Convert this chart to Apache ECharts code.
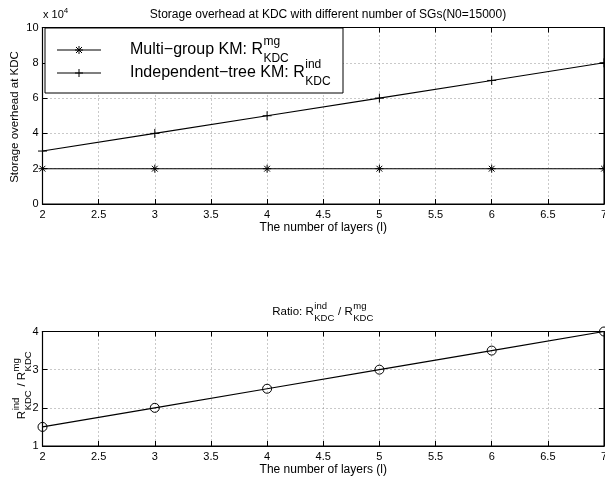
<!DOCTYPE html>
<html>
<head>
<meta charset="utf-8">
<script src="https://cdn.jsdelivr.net/npm/echarts@6/dist/echarts.min.js"></script>
<style>
  html, body { margin: 0; padding: 0; background: #fff; }
  #chart { width: 605px; height: 479px; }
</style>
</head>
<body>
<div id="chart"></div>
<script>
// Number of layers on the x axis
const layers = [2, 3, 4, 5, 6, 7];
// Storage overhead at the KDC for each key management scheme
const multiGroup = [20000, 20000, 20000, 20000, 20000, 20000];
const independentTree = [30000, 40000, 50000, 60000, 70000, 80000];
// Ratio of independent-tree to multi-group storage
const ratio = [1.5, 2, 2.5, 3, 3.5, 4];
// Tick settings
const xTicks = { min: 2, max: 7, step: 0.5 };
const topTicks = { min: 0, max: 100000, step: 20000 };
const bottomTicks = { min: 1, max: 4, step: 1 };

const FONT = '"Liberation Sans", Arial, Helvetica, sans-serif';

const pairs = (xs, ys) => xs.map((x, i) => [x, ys[i]]);

const ASTERISK = 'path://M0,-5L0,5M-5,0L5,0M-3.6,-3.6L3.6,3.6M-3.6,3.6L3.6,-3.6';
const PLUS = 'path://M0,-5L0,5M-5,0L5,0';

const grids = [
  { left: 42.5, top: 27.5, width: 561.5, height: 176.5 },
  { left: 42.5, top: 331.5, width: 561.5, height: 114.5 }
];

const gridLine = { show: true, lineStyle: { color: '#777', width: 0.8, type: [1, 3] } };
const axisLabel = { color: '#000', fontSize: 11, fontFamily: FONT };

function xAxisPair(gi) {
  const base = {
    type: 'value', gridIndex: gi, min: xTicks.min, max: xTicks.max, interval: xTicks.step,
    axisLine: { show: true, onZero: false, lineStyle: { color: '#000', width: 1.2 } },
    axisTick: { show: true, inside: true, length: 5, lineStyle: { color: '#000' } }
  };
  return [
    Object.assign({}, base, {
      position: 'bottom',
      axisLabel: Object.assign({ margin: 5, hideOverlap: false, formatter: v => String(v) }, axisLabel),
      splitLine: gridLine,
      name: 'The number of layers (l)', nameLocation: 'middle',
      nameGap: 18, nameTextStyle: { color: '#000', fontSize: 12, fontFamily: FONT, verticalAlign: 'top' }
    }),
    Object.assign({}, base, { position: 'top', axisLabel: { show: false }, splitLine: { show: false } })
  ];
}

function yAxisPair(gi, t, fmt) {
  const base = {
    type: 'value', gridIndex: gi, min: t.min, max: t.max, interval: t.step,
    axisLine: { show: true, onZero: false, lineStyle: { color: '#000', width: 1.2 } },
    axisTick: { show: true, inside: true, length: 5, lineStyle: { color: '#000' } }
  };
  return [
    Object.assign({}, base, {
      position: 'left',
      axisLabel: Object.assign({ margin: 4, formatter: fmt }, axisLabel),
      splitLine: gridLine
    }),
    Object.assign({}, base, { position: 'right', axisLabel: { show: false }, splitLine: { show: false } })
  ];
}

// Measure text so super/subscripts can be stacked after a base glyph
const measureCtx = document.createElement('canvas').getContext('2d');
function textWidth(s, size) {
  measureCtx.font = size + 'px ' + FONT;
  return measureCtx.measureText(s).width;
}

function textEl(str, x, y, size) {
  return { type: 'text', x: x, y: y, z: 110,
    style: { text: str, fontSize: size, fontFamily: FONT, fill: '#000', textAlign: 'left', textVerticalAlign: 'middle' } };
}

// parts: strings, or {sup, sub} stacked scripts; returns a centred group
function scriptedLabel(parts, size, small, cx, cy, rotation) {
  const kids = [];
  let x = 0;
  parts.forEach(p => {
    if (typeof p === 'string') {
      kids.push(textEl(p, x, 0, size));
      x += textWidth(p, size);
    } else {
      const w = Math.max(textWidth(p.sup || '', small), textWidth(p.sub || '', small));
      if (p.sup) kids.push(textEl(p.sup, x + 0.5, -size * 0.5, small));
      if (p.sub) kids.push(textEl(p.sub, x + 0.5, size * 0.55, small));
      x += w + 1;
    }
  });
  kids.forEach(k => { k.x -= x / 2; });
  return { type: 'group', x: cx, y: cy, rotation: rotation || 0, children: kids, z: 110, width: x };
}

function scriptedLeft(parts, size, small, lx, cy) {
  const g = scriptedLabel(parts, size, small, 0, cy, 0);
  g.x = lx + g.width / 2;
  return g;
}

// Legend box drawn in the upper-left corner of the first panel
const legendBox = { x: 45, y: 28, w: 298, h: 65 };
const legendRows = [
  { y: 50, symbol: 'asterisk', parts: ['Multi\u2212group KM: R', { sup: 'mg', sub: 'KDC' }] },
  { y: 73, symbol: 'plus', parts: ['Independent\u2212tree KM: R', { sup: 'ind', sub: 'KDC' }] }
];

function legendMarker(kind, cx, cy) {
  const s = 4, d = 3;
  const seg = (x1, y1, x2, y2) => ({ type: 'line', shape: { x1: cx + x1, y1: cy + y1, x2: cx + x2, y2: cy + y2 }, style: { stroke: '#000', lineWidth: 1 }, z: 105 });
  const out = [seg(0, -s, 0, s), seg(-s, 0, s, 0)];
  if (kind === 'asterisk') out.push(seg(-d, -d, d, d), seg(-d, d, d, -d));
  return out;
}

const graphics = [
  { type: 'rect', shape: { x: legendBox.x, y: legendBox.y, width: legendBox.w, height: legendBox.h },
    style: { fill: '#fff', stroke: '#000', lineWidth: 1 }, z: 99 }
];
legendRows.forEach(r => {
  graphics.push({ type: 'line', shape: { x1: 57, y1: r.y, x2: 101, y2: r.y }, style: { stroke: '#000', lineWidth: 1.2 }, z: 104 });
  legendMarker(r.symbol, 79, r.y).forEach(m => graphics.push(m));
  graphics.push(scriptedLeft(r.parts, 16, 12, 130, r.y));
});

// Axis exponent for the first panel
graphics.push({ type: 'text', x: 43, y: 15, z: 110,
  style: { text: 'x 10{s|4}', fontSize: 11, fontFamily: FONT, fill: '#000', textVerticalAlign: 'middle',
    rich: { s: { fontSize: 8, fontFamily: FONT, padding: [0, 0, 8, 0] } } } });

// Y-axis label of the first panel
graphics.push({ type: 'text', x: 15, y: 117, rotation: Math.PI / 2, z: 110,
  style: { text: 'Storage overhead at KDC', fontSize: 11.5, fontFamily: FONT, fill: '#000', textAlign: 'center', textVerticalAlign: 'middle' } });

// Second panel title and y-axis label
graphics.push(scriptedLabel(['Ratio: R', { sup: 'ind', sub: 'KDC' }, ' / R', { sup: 'mg', sub: 'KDC' }], 11.5, 9.5, 323, 312, 0));
graphics.push(scriptedLabel(['R', { sup: 'ind', sub: 'KDC' }, ' / R', { sup: 'mg', sub: 'KDC' }], 11.5, 9.5, 22, 385, Math.PI / 2));

graphics.forEach(g => { delete g.width; });

const topX = xAxisPair(0), botX = xAxisPair(1);
const topY = yAxisPair(0, topTicks, v => String(v / 10000));
const botY = yAxisPair(1, bottomTicks, v => String(v));

const lineStyle = { color: '#000', width: 1.1 };

const option = {
  animation: false,
  backgroundColor: '#fff',
  title: {
    text: 'Storage overhead at KDC with different number of SGs(N0=15000)',
    left: 323, top: 4, textAlign: 'center',
    textStyle: { color: '#000', fontSize: 12, fontWeight: 'normal', fontFamily: FONT }
  },
  grid: grids.map(g => Object.assign({ show: true, borderColor: '#000', borderWidth: 1,
    backgroundColor: 'transparent', outerBoundsMode: 'none', containLabel: false }, g)),
  xAxis: [topX[0], topX[1], botX[0], botX[1]],
  yAxis: [topY[0], topY[1], botY[0], botY[1]],
  series: [
    { name: 'Multi-group KM', type: 'line', xAxisIndex: 0, yAxisIndex: 0, data: pairs(layers, multiGroup),
      symbol: ASTERISK, symbolSize: 8, showAllSymbol: true,
      itemStyle: { color: '#000', borderColor: '#000', borderWidth: 1 }, lineStyle: lineStyle, z: 5 },
    { name: 'Independent-tree KM', type: 'line', xAxisIndex: 0, yAxisIndex: 0, data: pairs(layers, independentTree),
      symbol: PLUS, symbolSize: 9, showAllSymbol: true,
      itemStyle: { color: '#000', borderColor: '#000', borderWidth: 1 }, lineStyle: lineStyle, z: 5 },
    { name: 'Ratio', type: 'line', xAxisIndex: 2, yAxisIndex: 2, data: pairs(layers, ratio),
      symbol: 'circle', symbolSize: 9, showAllSymbol: true,
      itemStyle: { color: 'rgba(0,0,0,0)', borderColor: '#000', borderWidth: 1 }, lineStyle: lineStyle, z: 5 }
  ],
  graphic: graphics
};

const chart = echarts.init(document.getElementById('chart'), null, { renderer: 'canvas' });
chart.setOption(option);
</script>
</body>
</html>
